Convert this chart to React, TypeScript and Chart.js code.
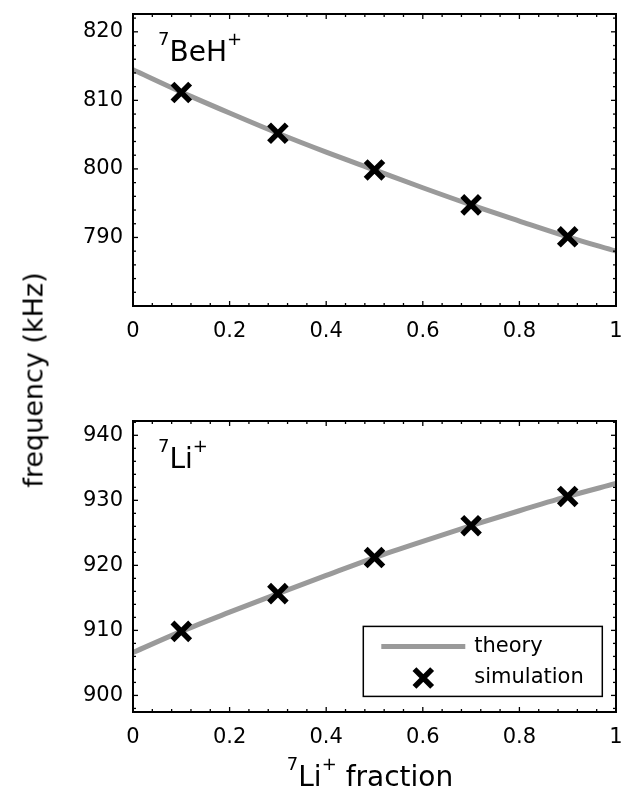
import React, { useEffect, useRef } from 'react';
import { Chart, registerables } from 'chart.js';

Chart.register(...registerables);

// ---------- data ----------
const theoryFractions = [0, 0.1, 0.2, 0.3, 0.4, 0.5, 0.6, 0.7, 0.8, 0.9, 1];
const simFractions = [0.1, 0.3, 0.5, 0.7, 0.9];

const beTheory = [814.45, 811.2, 808.15, 805.2, 802.45, 799.85, 797.25, 794.75, 792.4, 790.1, 788.0];
const beSim = [811.15, 805.2, 799.85, 794.75, 790.1];

const liTheory = [906.6, 909.85, 912.8, 915.65, 918.45, 921.2, 923.7, 926.1, 928.4, 930.6, 932.6];
const liSim = [909.85, 915.65, 921.2, 926.1, 930.6];

const xTickValues = [0, 0.2, 0.4, 0.6, 0.8, 1];
const xTickLabels = ['0', '0.2', '0.4', '0.6', '0.8', '1'];
const beYTicks = [790, 800, 810, 820];
const liYTicks = [900, 910, 920, 930, 940];

const legendLabels = ['theory', 'simulation'];

const FONT = '"DejaVu Sans", "Liberation Sans", Arial, sans-serif';
const THEORY_COLOR = '#9a9a9a';
const MARK_R = 12.5;
const MARK_W = 5.5;

type Part = { t: string; sup?: boolean };

function drawRich(ctx: CanvasRenderingContext2D, x: number, y: number, parts: Part[], main: number, sup: number, raise: number) {
  let cx = x;
  ctx.textAlign = 'left';
  ctx.textBaseline = 'alphabetic';
  for (const p of parts) {
    ctx.font = `${p.sup ? sup : main}px ${FONT}`;
    ctx.fillText(p.t, cx, p.sup ? y - raise : y);
    cx += ctx.measureText(p.t).width;
  }
}
function richWidth(ctx: CanvasRenderingContext2D, parts: Part[], main: number, sup: number) {
  let w = 0;
  for (const p of parts) {
    ctx.font = `${p.sup ? sup : main}px ${FONT}`;
    w += ctx.measureText(p.t).width;
  }
  return w;
}

function drawCross(ctx: CanvasRenderingContext2D, x: number, y: number, r: number, lw: number) {
  const h = r * Math.SQRT1_2;
  ctx.save();
  ctx.strokeStyle = '#000';
  ctx.lineWidth = lw;
  ctx.beginPath();
  ctx.moveTo(x - h, y - h);
  ctx.lineTo(x + h, y + h);
  ctx.moveTo(x + h, y - h);
  ctx.lineTo(x - h, y + h);
  ctx.stroke();
  ctx.restore();
}

const decorPlugin = {
  id: 'decor',
  afterDraw(chart: any, _args: any, opts: any) {
    const ctx: CanvasRenderingContext2D = chart.ctx;
    const a = chart.chartArea;
    const xs = chart.scales.x;
    const ys = chart.scales.y;
    ctx.save();
    ctx.strokeStyle = '#000';
    ctx.lineWidth = 1.3;
    const line = (x1: number, y1: number, x2: number, y2: number) => {
      ctx.beginPath();
      ctx.moveTo(x1, y1);
      ctx.lineTo(x2, y2);
      ctx.stroke();
    };
    // x ticks (inward, top and bottom)
    for (let i = 0; i <= 25; i++) {
      const v = i * 0.04;
      const major = i % 5 === 0;
      const len = major ? 5 : 3;
      const p = xs.getPixelForValue(v);
      line(p, a.bottom, p, a.bottom - len);
      line(p, a.top, p, a.top + len);
    }
    // y ticks (inward, left and right)
    const yMin = ys.min, yMax = ys.max;
    for (let v = Math.ceil(yMin / 2) * 2; v <= yMax; v += 2) {
      const major = v % 10 === 0;
      const len = major ? 5 : 3;
      const p = ys.getPixelForValue(v);
      line(a.left, p, a.left + len, p);
      line(a.right, p, a.right - len, p);
    }
    // frame
    ctx.lineWidth = 2;
    ctx.strokeRect(a.left, a.top, a.right - a.left, a.bottom - a.top);

    // panel label
    ctx.fillStyle = '#000';
    drawRich(ctx, a.left + 25, a.top + 47, opts.label, 28, 18, 16);

    // legend
    if (opts.legend) {
      const bw = 239, bh = 70;
      const bx = a.right - 13.7 - bw;
      const by = a.bottom - 15.6 - bh;
      ctx.fillStyle = '#fff';
      ctx.fillRect(bx, by, bw, bh);
      ctx.lineWidth = 1.5;
      ctx.strokeStyle = '#000';
      ctx.strokeRect(bx, by, bw, bh);
      // theory sample
      ctx.strokeStyle = THEORY_COLOR;
      ctx.lineWidth = 5;
      line(bx + 18, by + 20, bx + 102, by + 20);
      drawCross(ctx, bx + 60, by + 51.6, MARK_R, MARK_W);
      ctx.fillStyle = '#000';
      ctx.font = `21px ${FONT}`;
      ctx.textAlign = 'left';
      ctx.textBaseline = 'middle';
      ctx.fillText(legendLabels[0], bx + 111, by + 20);
      ctx.fillText(legendLabels[1], bx + 111, by + 51.6);
    }

    // x title
    if (opts.xTitle) {
      const parts: Part[] = opts.xTitle;
      const w = richWidth(ctx, parts, 28, 18);
      const cx = (a.left + a.right) / 2 - 4.5;
      ctx.fillStyle = '#000';
      drawRich(ctx, cx - w / 2, a.bottom + 74.4, parts, 28, 18, 16);
    }
    ctx.restore();
  },
};

function makeConfig(theory: number[], sim: number[], yMin: number, yMax: number, yTicks: number[], padTop: number, padRight: number, xAxisH: number, decor: any) {
  return {
    type: 'line' as const,
    data: {
      datasets: [
        {
          label: legendLabels[1],
          data: simFractions.map((x, i) => ({ x, y: sim[i] })),
          showLine: false,
          pointStyle: 'crossRot',
          pointRadius: MARK_R,
          pointBorderWidth: MARK_W,
          pointBorderColor: '#000',
          borderColor: '#000',
          backgroundColor: '#000',
          order: 0,
        },
        {
          label: legendLabels[0],
          data: theoryFractions.map((x, i) => ({ x, y: theory[i] })),
          borderColor: THEORY_COLOR,
          borderWidth: 5,
          pointRadius: 0,
          fill: false,
          cubicInterpolationMode: 'monotone',
          order: 1,
        },
      ],
    },
    options: {
      animation: false,
      responsive: false,
      devicePixelRatio: 1,
      layout: { autoPadding: false, padding: { left: 0, right: padRight, top: padTop, bottom: 0 } },
      plugins: {
        legend: { display: false },
        tooltip: { enabled: false },
        decor,
      },
      scales: {
        x: {
          type: 'linear',
          min: 0,
          max: 1,
          grid: { display: false, drawTicks: false },
          border: { display: false },
          ticks: {
            color: '#000',
            font: { family: FONT, size: 21 },
            padding: 13,
            autoSkip: false,
            maxRotation: 0,
            callback: (_v: any, i: number) => xTickLabels[i],
          },
          afterBuildTicks: (s: any) => {
            s.ticks = xTickValues.map((v) => ({ value: v }));
          },
          afterFit: (s: any) => {
            s.height = xAxisH;
            s.paddingLeft = 0;
            s.paddingRight = 0;
          },
        },
        y: {
          type: 'linear',
          min: yMin,
          max: yMax,
          grid: { display: false, drawTicks: false },
          border: { display: false },
          ticks: {
            color: '#000',
            font: { family: FONT, size: 21 },
            padding: 10,
            autoSkip: false,
            callback: (v: any) => String(v),
          },
          afterBuildTicks: (s: any) => {
            s.ticks = yTicks.map((v) => ({ value: v }));
          },
          afterFit: (s: any) => {
            s.width = 133;
            s.paddingTop = 0;
            s.paddingBottom = 0;
          },
        },
      },
    },
    plugins: [decorPlugin],
  };
}

export default function App() {
  const topRef = useRef<HTMLCanvasElement>(null);
  const botRef = useRef<HTMLCanvasElement>(null);

  useEffect(() => {
    const c1 = new Chart(
      topRef.current as HTMLCanvasElement,
      makeConfig(beTheory, beSim, 780.0, 822.6, beYTicks, 14, 7, 44, {
        label: [{ t: '7', sup: true }, { t: 'BeH' }, { t: '+', sup: true }],
        legend: false,
      }) as any
    );
    const c2 = new Chart(
      botRef.current as HTMLCanvasElement,
      makeConfig(liTheory, liSim, 897.45, 942.2, liYTicks, 71, 7, 80, {
        label: [{ t: '7', sup: true }, { t: 'Li' }, { t: '+', sup: true }],
        legend: true,
        xTitle: [{ t: '7', sup: true }, { t: 'Li' }, { t: '+', sup: true }, { t: ' fraction' }],
      }) as any
    );
    return () => {
      c1.destroy();
      c2.destroy();
    };
  }, []);

  return (
    <div style={{ position: 'absolute', left: 0, top: 0, width: 623, height: 792, background: '#fff', overflow: 'hidden' }}>
      <canvas ref={topRef} width={623} height={350} style={{ position: 'absolute', left: 0, top: 0, width: 623, height: 350 }} />
      <canvas ref={botRef} width={623} height={442} style={{ position: 'absolute', left: 0, top: 350, width: 623, height: 442 }} />
      <div
        style={{
          position: 'absolute',
          left: 33.4,
          top: 380,
          transform: 'translate(-50%, -50%) rotate(-90deg)',
          whiteSpace: 'nowrap',
          fontFamily: FONT,
          fontSize: 27,
          lineHeight: 1,
          color: '#000',
        }}
      >
        frequency (kHz)
      </div>
    </div>
  );
}
